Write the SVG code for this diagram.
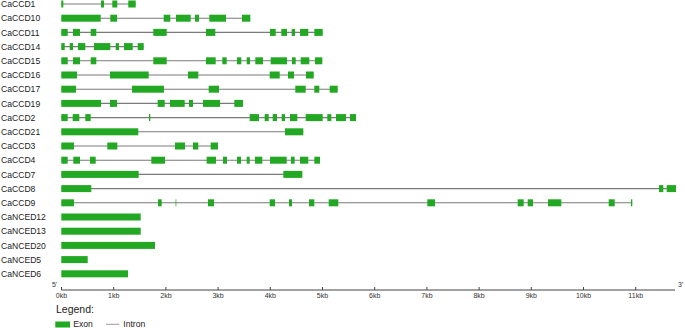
<svg xmlns="http://www.w3.org/2000/svg" width="685" height="328" viewBox="0 0 685 328">
<style>
.lbl{font-family:"Liberation Sans",Arial,sans-serif;font-size:8.6px;fill:#222}
.ax{font-family:"Liberation Sans",Arial,sans-serif;font-size:7px;fill:#333;text-anchor:middle}
.ex{fill:#22a822}
.in{stroke:#7a7a7a;stroke-width:1.1}
</style>
<rect width="685" height="328" fill="#fff"/>
<g id="CaCCD1" transform="translate(0,4)"><text class="lbl" x="1" y="3.1">CaCCD1</text><line class="in" x1="61.3" y1="0" x2="135.7" y2="0"/><rect class="ex" x="61.3" y="-3.5" width="2" height="7"/><rect class="ex" x="101" y="-3.5" width="3" height="7"/><rect class="ex" x="112.3" y="-3.5" width="5" height="7"/><rect class="ex" x="128.3" y="-3.5" width="7.4" height="7"/></g>
<g id="CaCCD10" transform="translate(0,18.2)"><text class="lbl" x="1" y="3.1">CaCCD10</text><line class="in" x1="61.3" y1="0" x2="250.3" y2="0"/><rect class="ex" x="61.3" y="-3.5" width="39.4" height="7"/><rect class="ex" x="110.3" y="-3.5" width="6.7" height="7"/><rect class="ex" x="163.7" y="-3.5" width="6.6" height="7"/><rect class="ex" x="176" y="-3.5" width="14.7" height="7"/><rect class="ex" x="195" y="-3.5" width="4" height="7"/><rect class="ex" x="209.3" y="-3.5" width="16.7" height="7"/><rect class="ex" x="242" y="-3.5" width="8.3" height="7"/></g>
<g id="CaCCD11" transform="translate(0,32.4)"><text class="lbl" x="1" y="3.1">CaCCD11</text><line class="in" x1="61.3" y1="0" x2="322.7" y2="0"/><rect class="ex" x="61.3" y="-3.5" width="6.4" height="7"/><rect class="ex" x="73" y="-3.5" width="7" height="7"/><rect class="ex" x="90.7" y="-3.5" width="5.6" height="7"/><rect class="ex" x="153.3" y="-3.5" width="13.4" height="7"/><rect class="ex" x="206" y="-3.5" width="9.3" height="7"/><rect class="ex" x="270" y="-3.5" width="5.7" height="7"/><rect class="ex" x="281.3" y="-3.5" width="5.7" height="7"/><rect class="ex" x="291.7" y="-3.5" width="3.3" height="7"/><rect class="ex" x="300" y="-3.5" width="8.3" height="7"/><rect class="ex" x="314.3" y="-3.5" width="8.4" height="7"/></g>
<g id="CaCCD14" transform="translate(0,46.6)"><text class="lbl" x="1" y="3.1">CaCCD14</text><line class="in" x1="61.3" y1="0" x2="143.7" y2="0"/><rect class="ex" x="61.3" y="-3.5" width="3.4" height="7"/><rect class="ex" x="69.7" y="-3.5" width="3.3" height="7"/><rect class="ex" x="78" y="-3.5" width="7.3" height="7"/><rect class="ex" x="94" y="-3.5" width="16.3" height="7"/><rect class="ex" x="115.7" y="-3.5" width="3.3" height="7"/><rect class="ex" x="124" y="-3.5" width="8.7" height="7"/><rect class="ex" x="137.7" y="-3.5" width="6" height="7"/></g>
<g id="CaCCD15" transform="translate(0,60.8)"><text class="lbl" x="1" y="3.1">CaCCD15</text><line class="in" x1="61.3" y1="0" x2="322.3" y2="0" stroke="#aaa"/><rect class="ex" x="61.3" y="-3.5" width="6.4" height="7"/><rect class="ex" x="73" y="-3.5" width="7" height="7"/><rect class="ex" x="90.7" y="-3.5" width="5.6" height="7"/><rect class="ex" x="153.3" y="-3.5" width="13.4" height="7"/><rect class="ex" x="206" y="-3.5" width="9.7" height="7"/><rect class="ex" x="222.3" y="-3.5" width="4.4" height="7"/><rect class="ex" x="237" y="-3.5" width="4.3" height="7"/><rect class="ex" x="246.7" y="-3.5" width="3.3" height="7"/><rect class="ex" x="255.3" y="-3.5" width="7.7" height="7"/><rect class="ex" x="270.7" y="-3.5" width="16.3" height="7"/><rect class="ex" x="292" y="-3.5" width="3.7" height="7"/><rect class="ex" x="300.7" y="-3.5" width="8.6" height="7"/><rect class="ex" x="315" y="-3.5" width="7.3" height="7"/></g>
<g id="CaCCD16" transform="translate(0,75)"><text class="lbl" x="1" y="3.1">CaCCD16</text><line class="in" x1="61.3" y1="0" x2="313.7" y2="0"/><rect class="ex" x="61.3" y="-3.5" width="15.7" height="7"/><rect class="ex" x="110" y="-3.5" width="38.7" height="7"/><rect class="ex" x="188" y="-3.5" width="10.3" height="7"/><rect class="ex" x="269.7" y="-3.5" width="10" height="7"/><rect class="ex" x="288" y="-3.5" width="6" height="7"/><rect class="ex" x="306" y="-3.5" width="7.7" height="7"/></g>
<g id="CaCCD17" transform="translate(0,89.2)"><text class="lbl" x="1" y="3.1">CaCCD17</text><line class="in" x1="61.3" y1="0" x2="337.7" y2="0"/><rect class="ex" x="61.3" y="-3.5" width="14.7" height="7"/><rect class="ex" x="132" y="-3.5" width="32" height="7"/><rect class="ex" x="208.7" y="-3.5" width="10.3" height="7"/><rect class="ex" x="295.3" y="-3.5" width="10.4" height="7"/><rect class="ex" x="314.3" y="-3.5" width="5" height="7"/><rect class="ex" x="329.7" y="-3.5" width="8" height="7"/></g>
<g id="CaCCD19" transform="translate(0,103.4)"><text class="lbl" x="1" y="3.1">CaCCD19</text><line class="in" x1="61.3" y1="0" x2="243" y2="0"/><rect class="ex" x="61.3" y="-3.5" width="39.7" height="7"/><rect class="ex" x="110" y="-3.5" width="7" height="7"/><rect class="ex" x="157.7" y="-3.5" width="7" height="7"/><rect class="ex" x="170" y="-3.5" width="14.7" height="7"/><rect class="ex" x="189" y="-3.5" width="4" height="7"/><rect class="ex" x="203" y="-3.5" width="17" height="7"/><rect class="ex" x="234.3" y="-3.5" width="8.7" height="7"/></g>
<g id="CaCCD2" transform="translate(0,117.6)"><text class="lbl" x="1" y="3.1">CaCCD2</text><line class="in" x1="61.3" y1="0" x2="356" y2="0"/><rect class="ex" x="61.3" y="-3.5" width="6.4" height="7"/><rect class="ex" x="72.7" y="-3.5" width="6.6" height="7"/><rect class="ex" x="85.3" y="-3.5" width="5.4" height="7"/><rect class="ex" x="149" y="-3.5" width="1.3" height="7"/><rect class="ex" x="249.7" y="-3.5" width="9.3" height="7"/><rect class="ex" x="264.7" y="-3.5" width="4" height="7"/><rect class="ex" x="272.7" y="-3.5" width="4.3" height="7"/><rect class="ex" x="281.7" y="-3.5" width="3.3" height="7"/><rect class="ex" x="290" y="-3.5" width="7.3" height="7"/><rect class="ex" x="305.7" y="-3.5" width="17" height="7"/><rect class="ex" x="327.3" y="-3.5" width="4" height="7"/><rect class="ex" x="336" y="-3.5" width="10" height="7"/><rect class="ex" x="350" y="-3.5" width="6" height="7"/></g>
<g id="CaCCD21" transform="translate(0,131.8)"><text class="lbl" x="1" y="3.1">CaCCD21</text><line class="in" x1="61.3" y1="0" x2="303.3" y2="0" stroke="#aaa"/><rect class="ex" x="61.3" y="-3.5" width="77" height="7"/><rect class="ex" x="285" y="-3.5" width="18.3" height="7"/></g>
<g id="CaCCD3" transform="translate(0,146)"><text class="lbl" x="1" y="3.1">CaCCD3</text><line class="in" x1="61.3" y1="0" x2="218" y2="0"/><rect class="ex" x="61.3" y="-3.5" width="12.7" height="7"/><rect class="ex" x="107.3" y="-3.5" width="10" height="7"/><rect class="ex" x="175" y="-3.5" width="10" height="7"/><rect class="ex" x="193" y="-3.5" width="5.3" height="7"/><rect class="ex" x="210.7" y="-3.5" width="7.3" height="7"/></g>
<g id="CaCCD4" transform="translate(0,160.2)"><text class="lbl" x="1" y="3.1">CaCCD4</text><line class="in" x1="61.3" y1="0" x2="320" y2="0"/><rect class="ex" x="61.3" y="-3.5" width="6.4" height="7"/><rect class="ex" x="73.3" y="-3.5" width="6.7" height="7"/><rect class="ex" x="90" y="-3.5" width="5.7" height="7"/><rect class="ex" x="151.3" y="-3.5" width="13.7" height="7"/><rect class="ex" x="206.7" y="-3.5" width="9.3" height="7"/><rect class="ex" x="223" y="-3.5" width="4" height="7"/><rect class="ex" x="237" y="-3.5" width="4" height="7"/><rect class="ex" x="246.7" y="-3.5" width="3" height="7"/><rect class="ex" x="255" y="-3.5" width="7.3" height="7"/><rect class="ex" x="270" y="-3.5" width="16.7" height="7"/><rect class="ex" x="291" y="-3.5" width="3.7" height="7"/><rect class="ex" x="300" y="-3.5" width="8.3" height="7"/><rect class="ex" x="314.3" y="-3.5" width="5.7" height="7"/></g>
<g id="CaCCD7" transform="translate(0,174.4)"><text class="lbl" x="1" y="3.1">CaCCD7</text><line class="in" x1="61.3" y1="0" x2="302.3" y2="0"/><rect class="ex" x="61.3" y="-3.5" width="77.4" height="7"/><rect class="ex" x="283.3" y="-3.5" width="19" height="7"/></g>
<g id="CaCCD8" transform="translate(0,188.6)"><text class="lbl" x="1" y="3.1">CaCCD8</text><line class="in" x1="61.3" y1="0" x2="676" y2="0" stroke="#9a9a9a" stroke-width="1.6"/><rect class="ex" x="61.3" y="-3.5" width="30" height="7"/><rect class="ex" x="659" y="-3.5" width="4.3" height="7"/><rect class="ex" x="666.7" y="-3.5" width="9.3" height="7"/></g>
<g id="CaCCD9" transform="translate(0,202.8)"><text class="lbl" x="1" y="3.1">CaCCD9</text><line class="in" x1="61.3" y1="0" x2="632.3" y2="0"/><rect class="ex" x="61.3" y="-3.5" width="12.7" height="7"/><rect class="ex" x="158" y="-3.5" width="3.7" height="7"/><rect class="ex" x="175.3" y="-3.5" width="1.2" height="7" opacity="0.6"/><rect class="ex" x="208" y="-3.5" width="6" height="7"/><rect class="ex" x="269.7" y="-3.5" width="5.3" height="7"/><rect class="ex" x="289" y="-3.5" width="3" height="7"/><rect class="ex" x="309" y="-3.5" width="5.3" height="7"/><rect class="ex" x="328.7" y="-3.5" width="9.6" height="7"/><rect class="ex" x="427.3" y="-3.5" width="7.7" height="7"/><rect class="ex" x="517.7" y="-3.5" width="6" height="7"/><rect class="ex" x="527.7" y="-3.5" width="5.3" height="7"/><rect class="ex" x="548" y="-3.5" width="13.3" height="7"/><rect class="ex" x="608.7" y="-3.5" width="6" height="7"/><rect class="ex" x="631" y="-3.5" width="1.3" height="7"/></g>
<g id="CaNCED12" transform="translate(0,217)"><text class="lbl" x="1" y="3.1">CaNCED12</text><rect class="ex" x="61.3" y="-3.5" width="79.4" height="7"/></g>
<g id="CaNCED13" transform="translate(0,231.2)"><text class="lbl" x="1" y="3.1">CaNCED13</text><rect class="ex" x="61.3" y="-3.5" width="79.4" height="7"/></g>
<g id="CaNCED20" transform="translate(0,245.4)"><text class="lbl" x="1" y="3.1">CaNCED20</text><rect class="ex" x="61.3" y="-3.5" width="93.7" height="7"/></g>
<g id="CaNCED5" transform="translate(0,259.6)"><text class="lbl" x="1" y="3.1">CaNCED5</text><rect class="ex" x="61.3" y="-3.5" width="26.4" height="7"/></g>
<g id="CaNCED6" transform="translate(0,273.8)"><text class="lbl" x="1" y="3.1">CaNCED6</text><rect class="ex" x="61.3" y="-3.5" width="66.7" height="7"/></g>
<g id="axis">
<line x1="61.5" y1="290" x2="675" y2="290" stroke="#444" stroke-width="1"/>
<text class="ax" x="54.5" y="287">5'</text>
<text class="ax" x="680.5" y="287">3'</text>
<g stroke="#444" stroke-width="1">
<line x1="61.5" y1="287" x2="61.5" y2="290"/><line x1="113.7" y1="287" x2="113.7" y2="290"/><line x1="165.9" y1="287" x2="165.9" y2="290"/><line x1="218.1" y1="287" x2="218.1" y2="290"/><line x1="270.3" y1="287" x2="270.3" y2="290"/><line x1="322.5" y1="287" x2="322.5" y2="290"/><line x1="374.7" y1="287" x2="374.7" y2="290"/><line x1="426.9" y1="287" x2="426.9" y2="290"/><line x1="479.1" y1="287" x2="479.1" y2="290"/><line x1="531.3" y1="287" x2="531.3" y2="290"/><line x1="583.5" y1="287" x2="583.5" y2="290"/><line x1="635.7" y1="287" x2="635.7" y2="290"/>
</g>
<text class="ax" x="61.5" y="298">0kb</text><text class="ax" x="113.7" y="298">1kb</text><text class="ax" x="165.9" y="298">2kb</text><text class="ax" x="218.1" y="298">3kb</text><text class="ax" x="270.3" y="298">4kb</text><text class="ax" x="322.5" y="298">5kb</text><text class="ax" x="374.7" y="298">6kb</text><text class="ax" x="426.9" y="298">7kb</text><text class="ax" x="479.1" y="298">8kb</text><text class="ax" x="531.3" y="298">9kb</text><text class="ax" x="583.5" y="298">10kb</text><text class="ax" x="635.7" y="298">11kb</text>
</g>
<g id="legend">
<text x="56" y="313" font-family="Liberation Sans, Arial, sans-serif" font-size="10.5" fill="#222">Legend:</text>
<rect class="ex" x="55.3" y="321.5" width="14.7" height="6"/>
<text class="lbl" x="73.3" y="327.3">Exon</text>
<line x1="106" y1="324.3" x2="119.3" y2="324.3" stroke="#999" stroke-width="1"/>
<text class="lbl" x="123.3" y="327.3">Intron</text>
</g>
</svg>
